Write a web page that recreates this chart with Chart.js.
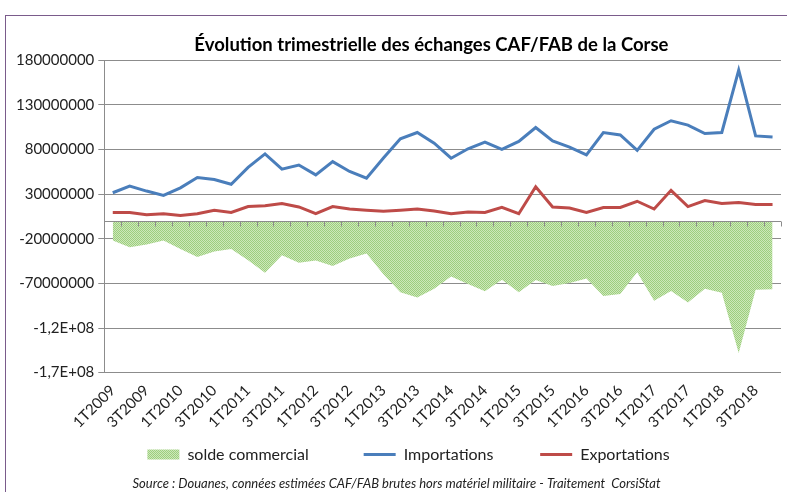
<!DOCTYPE html>
<html>
<head>
<meta charset="utf-8">
<script src="https://cdn.jsdelivr.net/npm/chart.js@4.4.0/dist/chart.umd.min.js"></script>
<style>
body { margin: 0; background: #fff; }
#wrap { position: relative; width: 787px; height: 492px; overflow: hidden; }
#frame { position: absolute; left: 5px; top: 15px; width: 820px; height: 520px;
         border-top: 1px solid #7a5b8b; border-left: 1px solid #7a5b8b; }
canvas { position: absolute; left: 0; top: 0; }
</style>
</head>
<body>
<div id="wrap"><div id="frame"></div><canvas id="chart" width="787" height="492"></canvas></div>
<script>
// quarterly data, 1T2009 -> 4T2018 (euros)
const quarters = [
  "1T2009","2T2009","3T2009","4T2009","1T2010","2T2010","3T2010","4T2010",
  "1T2011","2T2011","3T2011","4T2011","1T2012","2T2012","3T2012","4T2012",
  "1T2013","2T2013","3T2013","4T2013","1T2014","2T2014","3T2014","4T2014",
  "1T2015","2T2015","3T2015","4T2015","1T2016","2T2016","3T2016","4T2016",
  "1T2017","2T2017","3T2017","4T2017","1T2018","2T2018","3T2018","4T2018"
];
const importations = [
  31500000, 39000000, 33400000, 28500000, 37000000, 48500000, 46300000, 41000000,
  60000000, 75000000, 58000000, 62600000, 51600000, 66400000, 55400000, 47800000,
  70500000, 92000000, 99000000, 87000000, 70200000, 80800000, 88300000, 80000000,
  89000000, 104600000, 89500000, 82700000, 74000000, 99000000, 96300000, 79000000,
  102700000, 112200000, 107300000, 97800000, 99000000, 169000000, 95200000, 94000000
];
const exportations = [
  9500000, 9500000, 7000000, 8000000, 6000000, 8000000, 12000000, 9500000,
  16000000, 17000000, 19400000, 15600000, 8000000, 16000000, 13300000, 12000000,
  10700000, 12000000, 13300000, 11000000, 8000000, 10000000, 9500000, 15200000,
  8000000, 38300000, 15600000, 14500000, 9500000, 15000000, 15000000, 22000000,
  13300000, 34200000, 16000000, 22800000, 19400000, 20600000, 18300000, 18300000
];
const solde = [
  -22000000, -29500000, -26400000, -22000000, -31500000, -40500000, -34300000, -31500000,
  -44000000, -58000000, -38600000, -47000000, -44500000, -50400000, -42100000, -36500000,
  -59800000, -80000000, -85700000, -76000000, -62200000, -70800000, -78800000, -66000000,
  -80000000, -66300000, -73000000, -69500000, -64500000, -84000000, -82000000, -57500000,
  -89400000, -78500000, -91300000, -76000000, -80600000, -148000000, -77000000, -76500000
];
const yTickLabels = ["-1,7E+08", "-1,2E+08", "-70000000", "-20000000", "30000000", "80000000", "130000000", "180000000"];

// dotted green fill like the Excel area pattern
function greenPattern() {
  const c = document.createElement('canvas');
  c.width = 2; c.height = 2;
  const g = c.getContext('2d');
  g.fillStyle = '#cde8ba'; g.fillRect(0, 0, 2, 2);
  g.fillStyle = '#9dce7e'; g.fillRect(0, 0, 1, 1); g.fillRect(1, 1, 1, 1);
  return g.createPattern(c, 'repeat');
}
const pattern = greenPattern();

// horizontal axis crossing at 0, with tick marks between categories
const zeroAxis = {
  id: 'zeroAxis',
  afterLayout(chart) {
    // legend sits a little right of the canvas centre in the original
    chart.legend.left += 12;
    chart.legend.right += 12;
  },
  afterDatasetsDraw(chart) {
    const { ctx, chartArea, scales: { x, y } } = chart;
    const y0 = Math.round(y.getPixelForValue(0)) + 0.5;
    ctx.save();
    ctx.strokeStyle = '#8c8c8c';
    ctx.lineWidth = 1;
    ctx.beginPath();
    ctx.moveTo(chartArea.left, y0);
    ctx.lineTo(chartArea.right, y0);
    for (let i = 0; i <= quarters.length; i++) {
      const px = Math.round(x.getPixelForValue(i - 0.5)) + 0.5;
      ctx.moveTo(px, y0);
      ctx.lineTo(px, y0 + 5);
    }
    ctx.stroke();
    ctx.restore();
  }
};

const font = 'Lato';
const nb = n => '\u00a0'.repeat(n);
const legendPad = [10, 8];

new Chart(document.getElementById('chart'), {
  type: 'line',
  data: {
    labels: quarters,
    datasets: [
      { label: 'solde commercial', data: solde, fill: 'origin', backgroundColor: pattern,
        borderWidth: 0, pointRadius: 0, pointStyle: 'rect' },
      { label: 'Importations', data: importations, borderColor: '#4a7ebb', backgroundColor: '#4a7ebb',
        borderWidth: 3, pointRadius: 0, pointStyle: 'line', tension: 0 },
      { label: 'Exportations', data: exportations, borderColor: '#be4b48', backgroundColor: '#be4b48',
        borderWidth: 3, pointRadius: 0, pointStyle: 'line', tension: 0 }
    ]
  },
  options: {
    responsive: false,
    animation: false,
    layout: { padding: { left: 12, right: 6, top: 34, bottom: 0 } },
    plugins: {
      title: {
        display: true,
        fullSize: false,
        text: 'Évolution trimestrielle des échanges CAF/FAB de la Corse' + nb(5),
        font: { family: font, size: 18.5, weight: 'bold' },
        color: '#000',
        padding: { top: 0, bottom: 4 }
      },
      subtitle: {
        display: true,
        position: 'bottom',
        text: 'Source : Douanes, connées estimées CAF/FAB brutes hors matériel militaire - Traitement  CorsiStat',
        font: { family: font, size: 13, style: 'italic' },
        color: '#222',
        padding: { top: 4, bottom: 0 }
      },
      legend: {
        position: 'bottom',
        labels: {
          usePointStyle: true,
          pointStyleWidth: 32,
          boxHeight: 10,
          padding: 14,
          color: '#222',
          font: { family: font, size: 16 },
          generateLabels(chart) {
            const items = Chart.defaults.plugins.legend.labels.generateLabels(chart);
            items.forEach((it, i) => { if (legendPad[i]) it.text += nb(legendPad[i]); });
            return items;
          }
        }
      },
      tooltip: { enabled: false }
    },
    scales: {
      x: {
        offset: true,
        grid: { display: false },
        border: { display: false },
        ticks: {
          autoSkip: false,
          minRotation: 45,
          maxRotation: 45,
          padding: 1,
          color: '#222',
          font: { family: font, size: 15 },
          callback: (v, i) => (i % 2 === 0 ? quarters[i] : '')
        }
      },
      y: {
        min: -170000000,
        max: 180000000,
        grid: { color: '#8c8c8c', tickLength: 6 },
        border: { color: '#8c8c8c' },
        ticks: {
          stepSize: 50000000,
          padding: 4,
          color: '#222',
          font: { family: font, size: 15 },
          callback: (v, i) => yTickLabels[i]
        }
      }
    }
  },
  plugins: [zeroAxis]
});
</script>
</body>
</html>
